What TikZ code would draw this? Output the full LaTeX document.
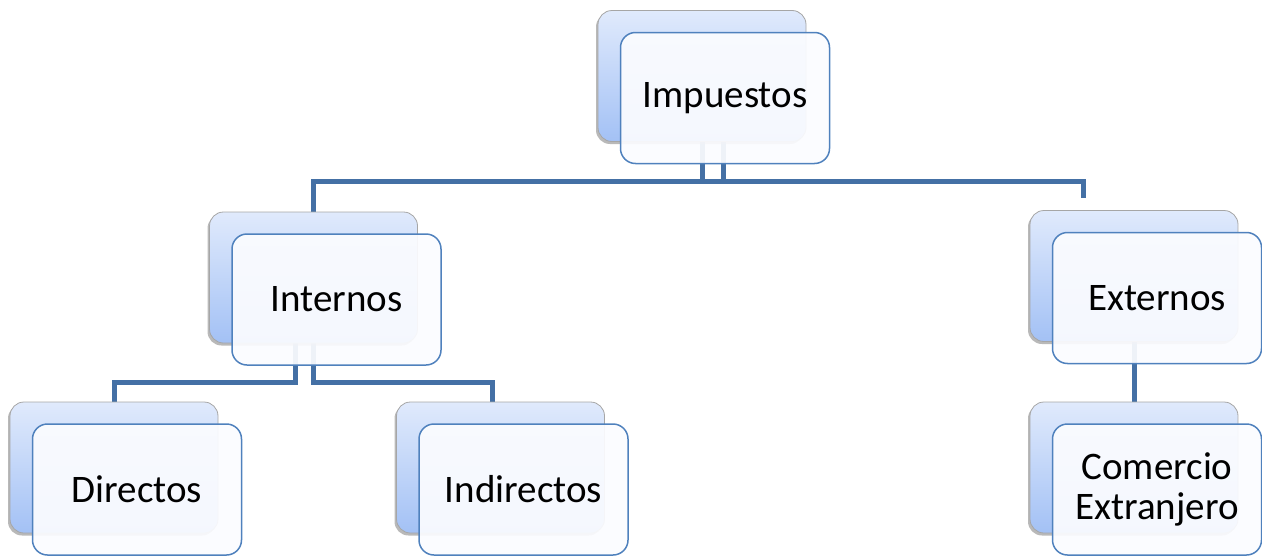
\documentclass[tikz,border=0pt]{standalone}
\usepackage{fontspec}
\setmainfont{Carlito}
\usepackage{tikz}
\usetikzlibrary{shadows}
\usetikzlibrary{backgrounds}
\usetikzlibrary{calc}

\definecolor{conncol}{HTML}{4470A5}
\definecolor{framecol}{HTML}{4F81BD}
\definecolor{shadetop}{HTML}{E0EAFC}
\definecolor{shadebot}{HTML}{A3C1F5}
\definecolor{paper}{HTML}{FBFCFF}

\begin{document}
\begin{tikzpicture}[x=1pt, y=-1pt,
  backbox/.style={rectangle, rounded corners=14pt, minimum width=208pt,
    minimum height=131pt, inner sep=0pt, top color=shadetop,
    bottom color=shadebot, draw=black!35, line width=0.8pt,
    drop shadow={shadow xshift=-2pt, shadow yshift=-2.5pt, opacity=0.55}},
  frontbox/.style={rectangle, rounded corners=15pt, minimum width=209pt,
    minimum height=131pt, inner sep=0pt, align=center, draw=framecol,
    line width=1.5pt, fill=paper, fill opacity=0.93, text opacity=1,
    font=\fontsize{39}{40}\selectfont},
  conn/.style={conncol, line width=5pt}]
  \path[use as bounding box] (0, 0) rectangle (1262, 557);

%%%%%%%%%%%% back boxes
  \foreach \nm/\x/\y in {imp/702/76, int/313.5/277.5, ext/1134/276,
                         dir/114/467.5, ind/500.5/467.5, com/1134/467.5} {
    \node[backbox] (\nm-b) at (\x, \y) {};
  }

%%%%%%%%%%%% front boxes
  \node[frontbox] (imp) at ($(imp-b) + (23, 22)$) {Impuestos};
  \node[frontbox] (int) at ($(int-b) + (23, 22)$) {Internos};
  \node[frontbox] (ext) at ($(ext-b) + (23, 22)$) {Externos};
  \node[frontbox] (dir) at ($(dir-b) + (23, 22)$) {Directos};
  \node[frontbox] (ind) at ($(ind-b) + (23, 22)$) {Indirectos};
  \node[frontbox] (com) at ($(com-b) + (23, 22)$) {Comercio\\Extranjero};

%%%%%%%%%%%% connectors
  \begin{scope}[on background layer]
    \coordinate (ext-in) at ([xshift=-51pt, yshift=12pt]ext-b.north);
    \draw[conn] (imp-b.south) -- ++(0, 40) ++(20, 0) -| (int-b.north);
    \draw[conn] ([xshift=21pt]imp-b.south) -- ++(0, 40) -| (ext-in);
    \draw[conn] ([xshift=-18.5pt]int-b.south) -- ++(0, 39) -| (dir-b.north);
    \draw[conn] (int-b.south) -- ++(0, 39) -| ([xshift=-8pt]ind-b.north);
    \draw[conn] (ext-b.south) -- (com-b.north);
  \end{scope}
\end{tikzpicture}
\end{document}
